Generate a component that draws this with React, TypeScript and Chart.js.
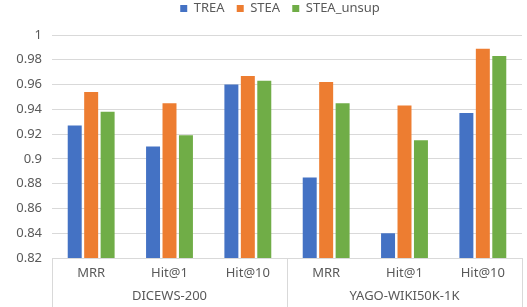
import React, { useEffect, useRef } from "react";
import { Chart, registerables } from "chart.js";

Chart.register(...registerables);

const metrics = ["MRR", "Hit@1", "Hit@10", "MRR", "Hit@1", "Hit@10"];
const datasetsNames = ["DICEWS-200", "YAGO-WIKI50K-1K"];
const treaValues = [0.927, 0.91, 0.96, 0.885, 0.84, 0.937];
const steaValues = [0.954, 0.945, 0.967, 0.962, 0.943, 0.989];
const steaUnsupValues = [0.938, 0.919, 0.963, 0.945, 0.915, 0.983];
const yTicks = { min: 0.82, max: 1, step: 0.02 };

const separatorPlugin = {
  id: "separators",
  afterDraw(chart: any) {
    const x = chart.scales.x;
    const ctx = chart.ctx;
    const bottom = chart.chartArea.bottom;
    const mid = (x.getPixelForValue(2) + x.getPixelForValue(3)) / 2;
    const xs = [x.left, mid, x.right];
    ctx.save();
    ctx.strokeStyle = "#d9d9d9";
    ctx.lineWidth = 1;
    xs.forEach((px) => {
      const p = Math.round(px) + 0.5;
      ctx.beginPath();
      ctx.moveTo(p, bottom);
      ctx.lineTo(p, chart.height);
      ctx.stroke();
    });
    ctx.restore();
  },
};

const legendHeightPlugin = {
  id: "legendHeight",
  beforeInit(chart: any) {
    const legend = chart.legend;
    if (!legend) return;
    const orig = legend.fit;
    legend.fit = function () {
      orig.call(this);
      this.height = 35;
    };
    const origDraw = legend.draw;
    legend.draw = function (...args: any[]) {
      const ctx = this.ctx;
      ctx.save();
      ctx.translate(19, 0);
      origDraw.apply(this, args);
      ctx.restore();
    };
  },
};

export default function App() {
  const ref = useRef<HTMLCanvasElement>(null);
  useEffect(() => {
    if (!ref.current) return;
    const font = "'Noto Sans', 'DejaVu Sans', sans-serif";
    const chart = new Chart(ref.current, {
      type: "bar",
      data: {
        labels: metrics,
        datasets: [
          { label: "TREA", data: treaValues, backgroundColor: "#4472C4" },
          { label: "STEA", data: steaValues, backgroundColor: "#ED7D31" },
          { label: "STEA_unsup", data: steaUnsupValues, backgroundColor: "#70AD47" },
        ],
      },
      options: {
        animation: false,
        responsive: false,
        maintainAspectRatio: false,
        layout: { padding: { top: 0, right: 5, bottom: 0, left: 0 } },
        datasets: { bar: { categoryPercentage: 0.63, barPercentage: 0.85 } },
        plugins: {
          tooltip: { enabled: false },
          legend: {
            position: "top",
            labels: {
              boxWidth: 7,
              boxHeight: 7,
              padding: 2,
              color: "#595959",
              font: { family: font, size: 13 },
              generateLabels: (chart: any) => {
                const items = Chart.defaults.plugins.legend.labels.generateLabels(chart);
                return items.map((it: any, i: number) => ({
                  ...it,
                  text: i < items.length - 1 ? it.text + "   " : it.text,
                }));
              },
            },
          },
        },
        scales: {
          x: {
            type: "category",
            grid: { display: false, drawTicks: false },
            border: { display: false },
            ticks: { color: "#595959", font: { family: font, size: 13 }, padding: 7 },
            afterFit: (s: any) => { s.height = 26; },
          },
          x2: {
            type: "category",
            position: "bottom",
            labels: datasetsNames,
            grid: { display: false, drawTicks: false },
            border: { display: false },
            ticks: { color: "#595959", font: { family: font, size: 13 }, padding: 4 },
            afterFit: (s: any) => { s.height = 23; },
          },
          y: {
            min: yTicks.min,
            max: yTicks.max,
            ticks: {
              stepSize: yTicks.step,
              color: "#595959",
              font: { family: font, size: 13 },
              padding: 10,
              callback: (v: any) => String(Math.round(Number(v) * 100) / 100),
            },
            grid: { color: "#d9d9d9", drawTicks: false },
            border: { display: false },
            afterFit: (s: any) => { s.width = 52; },
          },
        },
      },
      plugins: [separatorPlugin, legendHeightPlugin],
    });
    return () => chart.destroy();
  }, []);
  return (
    <div style={{ position: "fixed", left: 0, top: 0, width: 527, height: 307, background: "#fff" }}>
      <canvas ref={ref} width={527} height={307} style={{ display: "block" }} />
    </div>
  );
}
